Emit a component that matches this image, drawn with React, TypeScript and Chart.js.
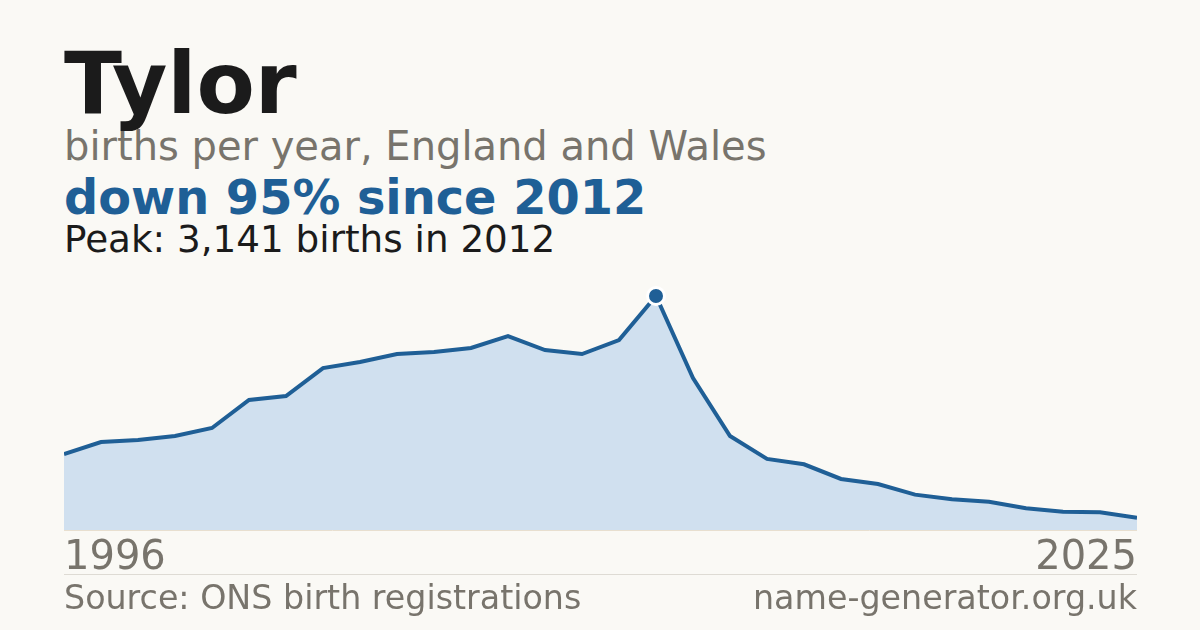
import React, { useEffect, useRef } from "react";
import { Chart, registerables } from "chart.js";

Chart.register(...registerables);

const years = [
  "1996", "1997", "1998", "1999", "2000", "2001", "2002", "2003", "2004", "2005",
  "2006", "2007", "2008", "2009", "2010", "2011", "2012", "2013", "2014", "2015",
  "2016", "2017", "2018", "2019", "2020", "2021", "2022", "2023", "2024", "2025",
];
const births = [
  1020, 1181, 1208, 1262, 1369, 1745, 1798, 2174, 2255, 2362,
  2389, 2443, 2604, 2416, 2362, 2550, 3141, 2040, 1262, 955,
  882, 685, 617, 475, 412, 380, 291, 246, 238, 165,
];
const peakYear = "2012";
const title = "Tylor";
const subtitle = "births per year, England and Wales";
const headline = "down 95% since 2012";
const peakText = "Peak: 3,141 births in 2012";
const source = "Source: ONS birth registrations";
const site = "name-generator.org.uk";

const BLUE = "#1f5f96";
const GRAY = "#78746c";
const FONT = "'DejaVu Sans', sans-serif";

export default function App() {
  const ref = useRef<HTMLCanvasElement>(null);
  useEffect(() => {
    if (!ref.current) return;
    const peakIdx = years.indexOf(peakYear);
    const chart = new Chart(ref.current, {
      type: "line",
      data: {
        labels: years,
        datasets: [
          {
            data: births,
            borderColor: BLUE,
            borderWidth: 4,
            backgroundColor: "#d0e0ef",
            fill: "origin",
            tension: 0,
            clip: false,
            pointRadius: births.map((_, i) => (i === peakIdx ? 8.5 : 0)),
            pointBackgroundColor: BLUE,
            pointBorderColor: "#ffffff",
            pointBorderWidth: 3,
            pointHoverRadius: 0,
          },
        ],
      },
      options: {
        animation: false,
        responsive: false,
        maintainAspectRatio: false,
        layout: { padding: { top: 16, left: 0, right: 0, bottom: 0 } },
        plugins: { legend: { display: false }, tooltip: { enabled: false } },
        scales: {
          x: {
            grid: { display: false },
            border: { display: true, color: "#e8dfcf", width: 1 },
            ticks: {
              autoSkip: false,
              maxRotation: 0,
              align: "inner",
              padding: -3,
              color: GRAY,
              font: { family: FONT, size: 40 },
              callback: (_v: any, i: number) =>
                i === 0 || i === years.length - 1 ? years[i] : "",
            },
          },
          y: {
            display: false,
            min: 0,
            max: 3141,
          },
        },
      },
    });
    return () => chart.destroy();
  }, []);

  const base: React.CSSProperties = {
    position: "absolute",
    margin: 0,
    lineHeight: 1,
    whiteSpace: "nowrap",
    fontFamily: FONT,
  };

  return (
    <div
      style={{
        position: "absolute",
        left: 0,
        top: 0,
        width: 1200,
        height: 630,
        background: "#faf9f5",
        overflow: "hidden",
        fontFamily: FONT,
      }}
    >
      <div style={{ ...base, left: 64, top: 41, fontSize: 85, fontWeight: "bold", color: "#1b1b1b" }}>
        {title}
      </div>
      <div style={{ ...base, left: 64, top: 126, fontSize: 40, color: GRAY }}>{subtitle}</div>
      <div style={{ ...base, left: 64, top: 174, fontSize: 47.8, fontWeight: "bold", color: BLUE }}>
        {headline}
      </div>
      <div style={{ ...base, left: 64, top: 221, fontSize: 37.3, color: "#1b1b1b" }}>{peakText}</div>
      <canvas
        ref={ref}
        width={1073}
        height={300}
        style={{ position: "absolute", left: 64, top: 280, width: 1073, height: 300 }}
      />
      <div
        style={{
          position: "absolute",
          left: 64,
          top: 574,
          width: 1073,
          height: 1,
          background: "#dedbd4",
        }}
      />
      <div style={{ ...base, left: 64, top: 581, fontSize: 33.3, color: GRAY }}>{source}</div>
      <div style={{ ...base, right: 63, top: 581, fontSize: 33.3, color: GRAY, textAlign: "right" }}>
        {site}
      </div>
    </div>
  );
}
